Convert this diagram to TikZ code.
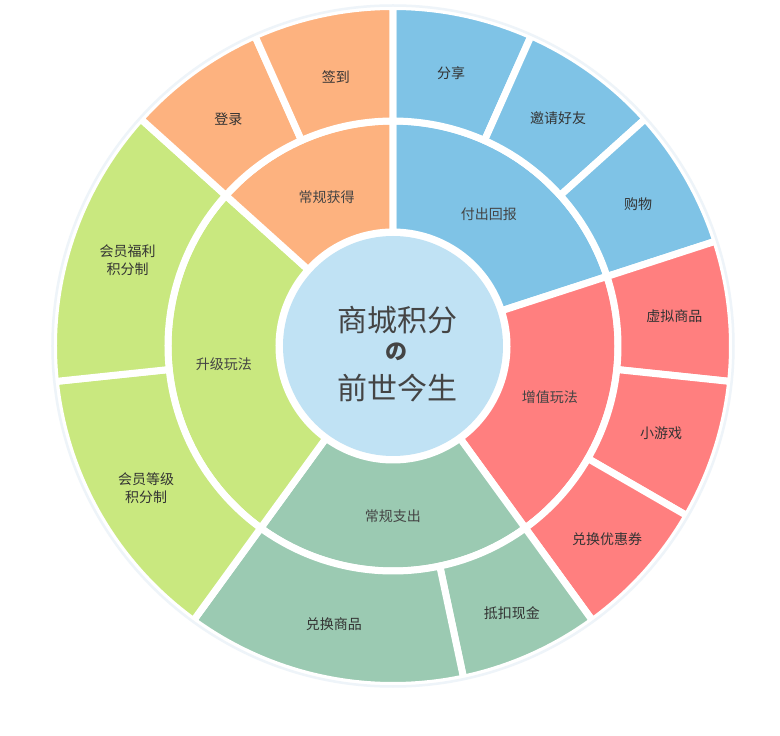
\documentclass[tikz,border=0pt]{standalone}
\usepackage{fontspec}
\setmainfont{Noto Sans CJK SC}
\definecolor{corange}{HTML}{FDB27F}
\definecolor{cblue}{HTML}{7FC3E6}
\definecolor{cred}{HTML}{FF7F7F}
\definecolor{cgreen}{HTML}{9BCAB2}
\definecolor{clime}{HTML}{C9E87F}
\definecolor{ccenter}{HTML}{C0E2F4}
\definecolor{chalo}{HTML}{EEF4F9}
\definecolor{ctext}{HTML}{333333}
\definecolor{ctitle}{HTML}{444444}
\tikzset{
  seg/.style={draw=white, line width=7pt, line join=round},
  lbl/.style={text=ctext, font=\fontsize{14pt}{18pt}\selectfont, align=center, inner sep=0pt},
  ilbl/.style={text=ctitle, font=\fontsize{14pt}{18pt}\selectfont, align=center, inner sep=0pt},
  ttl/.style={text=ctitle, font=\fontsize{30pt}{34pt}\selectfont, inner sep=0pt},
}
\newcommand\mysector[5]{%
  \filldraw[seg,fill=#5] (#1:#3) -- (#1:#4) arc[start angle=#1,end angle=#2,radius=#4] -- (#2:#3) arc[start angle=#2,end angle=#1,radius=#3] -- cycle;}
\begin{document}
\begin{tikzpicture}
\useasboundingbox (-393pt,-390pt) rectangle (387pt,346pt);
\fill[white] (-393pt,-390pt) rectangle (387pt,346pt);
% inner ring
\mysector{18}{90}{114pt}{225pt}{cblue}
\mysector{-54}{18}{114pt}{225pt}{cred}
\mysector{-126}{-54}{114pt}{225pt}{cgreen}
\mysector{138}{234}{114pt}{225pt}{clime}
\mysector{90}{138}{114pt}{225pt}{corange}
% outer ring
\mysector{66}{90}{225pt}{339.5pt}{cblue}
\mysector{42}{66}{225pt}{339.5pt}{cblue}
\mysector{18}{42}{225pt}{339.5pt}{cblue}
\mysector{-6}{18}{225pt}{339.5pt}{cred}
\mysector{-30}{-6}{225pt}{339.5pt}{cred}
\mysector{-54}{-30}{225pt}{339.5pt}{cred}
\mysector{-78}{-54}{225pt}{339.5pt}{cgreen}
\mysector{-126}{-78}{225pt}{339.5pt}{cgreen}
\mysector{186}{234}{225pt}{339.5pt}{clime}
\mysector{138}{186}{225pt}{339.5pt}{clime}
\mysector{114}{138}{225pt}{339.5pt}{corange}
\mysector{90}{114}{225pt}{339.5pt}{corange}
% halo
\draw[chalo, line width=2.5pt] (0,0) circle (340.5pt);
% centre
\fill[ccenter] (0,0) circle (110pt);
\node[ttl] (t1) at (5pt,26pt) {商城积分};
\node[text=ctitle, font=\fontsize{22pt}{24pt}\selectfont\bfseries, inner sep=0pt] (t2) at (4pt,-6pt) {の};
\node[ttl] (t3) at (5pt,-42pt) {前世今生};
% inner labels
\node[ilbl] (i1) at (54:163pt) {付出回报};
\node[ilbl] (i2) at (-18:165pt) {增值玩法};
\node[ilbl] (i3) at (-90:170pt) {常规支出};
\node[ilbl] (i4) at (186:170pt) {升级玩法};
\node[ilbl] (i5) at (114:163pt) {常规获得};
% outer labels
\node[lbl] (o1) at (78:279pt) {分享};
\node[lbl] (o2) at (54:281pt) {邀请好友};
\node[lbl] (o3) at (30:283pt) {购物};
\node[lbl] (o4) at (6:283pt) {虚拟商品};
\node[lbl] (o5) at (-18:282pt) {小游戏};
\node[lbl] (o6) at (-42:288pt) {兑换优惠券};
\node[lbl] (o7) at (-66:292pt) {抵扣现金};
\node[lbl] (o8) at (-102:284pt) {兑换商品};
\node[lbl] (o9) at (210:285pt) {会员等级\\积分制};
\node[lbl] (o10) at (162:279pt) {会员福利\\积分制};
\node[lbl] (o11) at (126:280pt) {登录};
\node[lbl] (o12) at (102:275pt) {签到};
\end{tikzpicture}
\end{document}
